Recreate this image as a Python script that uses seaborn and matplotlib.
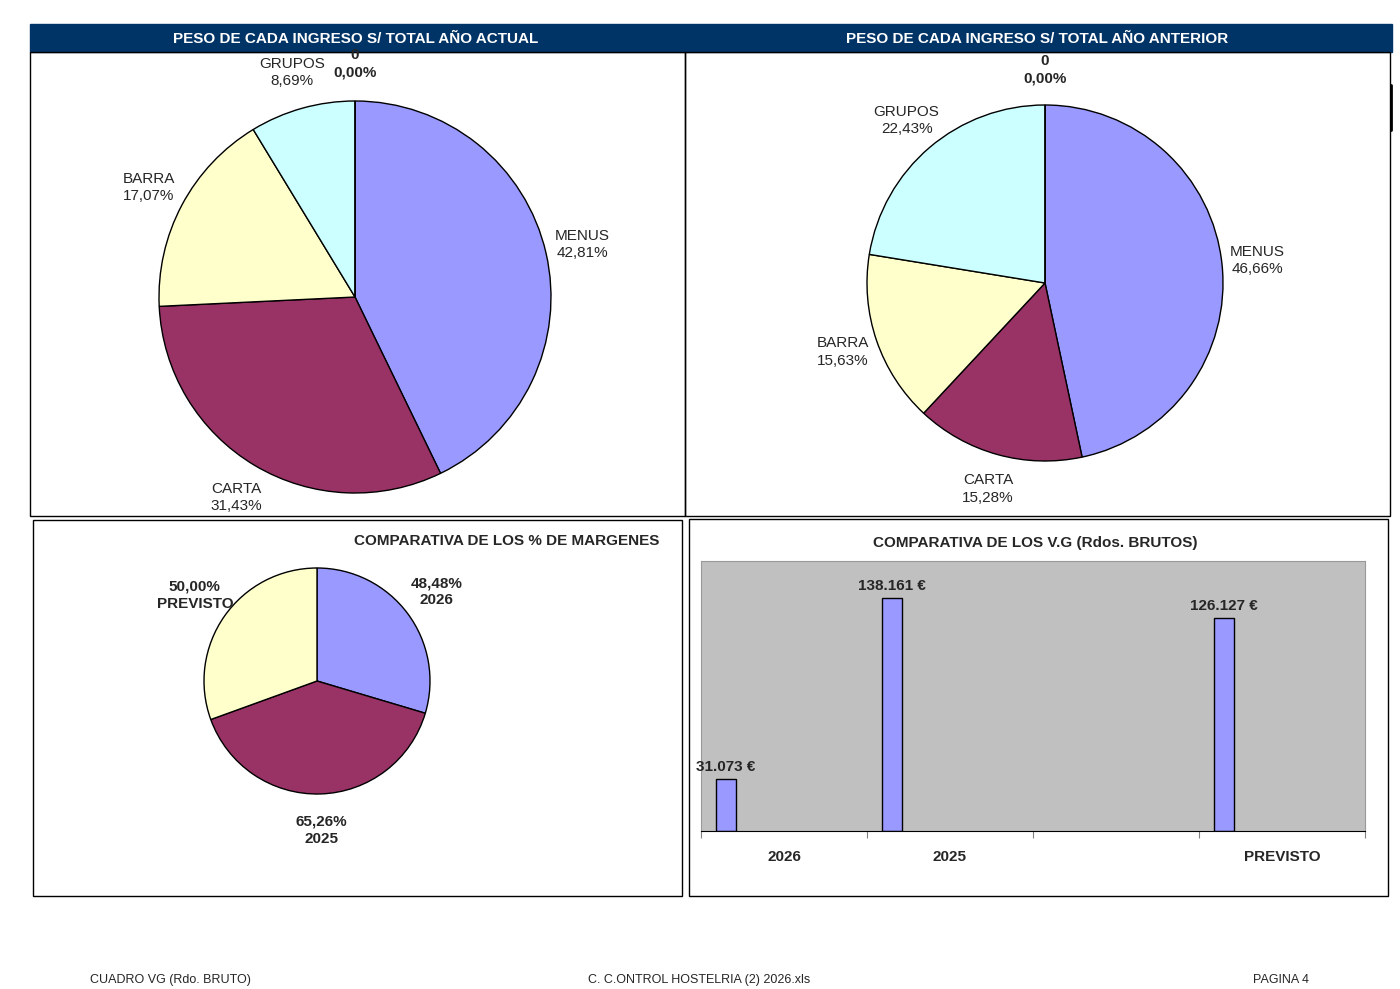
import matplotlib.pyplot as plt
import matplotlib.patches as mpatches
import numpy as np
import seaborn as sns

sns.set_style("white")
plt.rcParams['font.family'] = ['Liberation Sans', 'DejaVu Sans']

W, H = 1400, 989

# datos
ingresos = ["MENUS", "CARTA", "BARRA", "GRUPOS", "0"]
actual_pct = [42.81, 31.43, 17.07, 8.69, 0.0]
anterior_pct = [46.66, 15.28, 15.63, 22.43, 0.0]
colores_ing = ["#9999FF", "#993366", "#FFFFCC", "#CCFFFF", "#FFFFFF"]

margen_cats = ["2026", "2025", "PREVISTO"]
margen_pct = [48.48, 65.26, 50.00]

vg_cats = ["2026", "2025", "", "PREVISTO"]
vg_vals = [31073, 138161, np.nan, 126127]


def px(x0, y0, x1, y1):
    return [x0 / W, 1 - y1 / H, (x1 - x0) / W, (y1 - y0) / H]


def fmt_pct(v):
    return f"{v:.2f}".replace(".", ",") + "%"


def fmt_eur(v):
    return f"{int(v):,}".replace(",", ".") + " €"


fig = plt.figure(figsize=(14, 9.89), dpi=100)

# capa de fondo en pixeles
bg = fig.add_axes([0, 0, 1, 1])
bg.set_xlim(0, W)
bg.set_ylim(H, 0)
bg.axis("off")
bg.add_patch(mpatches.Rectangle((30, 24), 1362, 28, color="#003366"))
bg.text(356, 39, "PESO DE CADA INGRESO S/ TOTAL AÑO ACTUAL", color="white",
        fontsize=11, fontweight="bold", ha="center", va="center")
bg.text(1037, 39, "PESO DE CADA INGRESO S/ TOTAL AÑO ANTERIOR", color="white",
        fontsize=11, fontweight="bold", ha="center", va="center")
for (x0, y0, x1, y1) in [(30, 52, 685, 516), (685, 52, 1390, 516),
                         (33, 520, 682, 896), (689, 519, 1388, 896)]:
    bg.add_patch(mpatches.Rectangle((x0, y0), x1 - x0, y1 - y0, fill=False,
                                    ec="black", lw=1))
bg.plot([1391, 1391], [85, 130], color="black", lw=2)
bg.text(507, 541, "COMPARATIVA DE LOS % DE MARGENES", fontsize=11,
        fontweight="bold", ha="center", va="center")
bg.text(1035, 543, "COMPARATIVA DE LOS V.G (Rdos. BRUTOS)", fontsize=11,
        fontweight="bold", ha="center", va="center")
bg.text(90, 980, "CUADRO VG (Rdo. BRUTO)", fontsize=9, va="center")
bg.text(699, 980, "C. C.ONTROL HOSTELRIA (2) 2026.xls", fontsize=9,
        ha="center", va="center")
bg.text(1253, 980, "PAGINA 4", fontsize=9, va="center")


def tarta(cx, cy, r, vals, labels, colors, dist, bold_idx=(), all_bold=False):
    half = 1.5 * r
    ax = fig.add_axes(px(cx - half, cy - half, cx + half, cy + half))
    _, texts = ax.pie(vals, labels=labels, colors=colors, startangle=90,
                      counterclock=False, labeldistance=dist,
                      wedgeprops=dict(edgecolor="black", linewidth=1),
                      textprops=dict(fontsize=11, linespacing=1.3))
    for i, t in enumerate(texts):
        t.set_ha("center")
        t.set_va("center")
        if all_bold or i in bold_idx:
            t.set_fontweight("bold")
    ax.set_xlim(-1.5, 1.5)
    ax.set_ylim(-1.5, 1.5)
    ax.set_aspect("equal")
    ax.axis("off")
    return ax


lab1 = [f"{n}\n{fmt_pct(v)}" for n, v in zip(ingresos, actual_pct)]
tarta(355, 297, 196, [max(v, 1e-6) for v in actual_pct], lab1, colores_ing,
      1.19, bold_idx=(4,))
lab2 = [f"{n}\n{fmt_pct(v)}" for n, v in zip(ingresos, anterior_pct)]
tarta(1045, 283, 178, [max(v, 1e-6) for v in anterior_pct], lab2, colores_ing,
      1.2, bold_idx=(4,))
lab3 = [f"{fmt_pct(v)}\n{c}" for c, v in zip(margen_cats, margen_pct)]
tarta(317, 681, 113, margen_pct, lab3, colores_ing[:3], 1.32, all_bold=True)

# barras V.G
axb = fig.add_axes(px(701, 561, 1365, 831))
axb.set_facecolor("#C0C0C0")
pos = np.arange(len(vg_cats))
axb.bar(pos - 0.41, vg_vals, width=0.12, align="edge", color="#9999FF",
        edgecolor="black", linewidth=1)
for p, v in zip(pos, vg_vals):
    if not np.isnan(v):
        axb.text(p - 0.35, v + 3000, fmt_eur(v), ha="center", va="bottom",
                 fontsize=11, fontweight="bold")
axb.set_xlim(-0.5, len(vg_cats) - 0.5)
axb.set_ylim(0, 160000)
axb.set_yticks([])
axb.set_xticks(np.arange(len(vg_cats) + 1) - 0.5)
axb.set_xticklabels([])
axb.set_xticks(pos, minor=True)
axb.set_xticklabels(vg_cats, minor=True, fontsize=11, fontweight="bold")
axb.tick_params(axis="x", which="major", length=5, direction="out",
                bottom=True, color="gray")
axb.tick_params(axis="x", which="minor", length=0, pad=14)
for s in ["top", "right", "left"]:
    axb.spines[s].set_color("#999999")
axb.spines["bottom"].set_color("black")

fig.savefig("out.png", dpi=100)
